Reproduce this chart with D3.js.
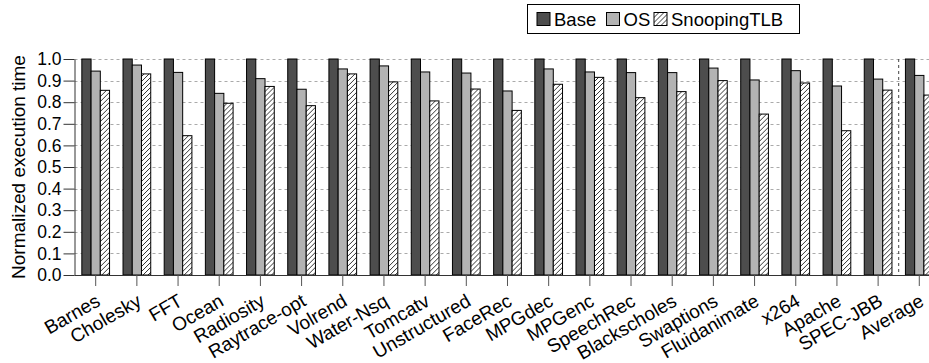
<!DOCTYPE html>
<html>
<head>
<meta charset="utf-8">
<script src="https://cdn.jsdelivr.net/npm/d3@7"></script>
<style>
    body { margin: 0; background: #fff; }
    svg text { font-family: "Liberation Sans", Arial, Helvetica, sans-serif; fill: #000; }
</style>
</head>
<body>
<svg id="chart" width="929" height="363"></svg>
<script>

// Benchmarks on the x axis
const categories = ["Barnes", "Cholesky", "FFT", "Ocean", "Radiosity", "Raytrace-opt", "Volrend",
    "Water-Nsq", "Tomcatv", "Unstructured", "FaceRec", "MPGdec", "MPGenc", "SpeechRec",
    "Blackscholes", "Swaptions", "Fluidanimate", "x264", "Apache", "SPEC-JBB", "Average"];

const seriesNames = ["Base", "OS", "SnoopingTLB"];

// Normalized execution time per series
const baseValues = [1.0, 1.0, 1.0, 1.0, 1.0, 1.0, 1.0, 1.0, 1.0, 1.0, 1.0,
    1.0, 1.0, 1.0, 1.0, 1.0, 1.0, 1.0, 1.0, 1.0, 1.0];
const osValues = [0.944, 0.972, 0.938, 0.841, 0.909, 0.860, 0.954, 0.968, 0.940, 0.935, 0.852,
    0.954, 0.940, 0.937, 0.937, 0.958, 0.903, 0.946, 0.875, 0.907, 0.924];
const snoopValues = [0.855, 0.931, 0.645, 0.795, 0.873, 0.784, 0.931, 0.894, 0.806, 0.861, 0.762,
    0.883, 0.915, 0.821, 0.849, 0.900, 0.745, 0.889, 0.668, 0.856, 0.833];

const yTicks = [0.0, 0.1, 0.2, 0.3, 0.4, 0.5, 0.6, 0.7, 0.8, 0.9, 1.0];

const svg = d3.select("#chart");

// Plot frame
const plotLeft = 74.5,
      plotTop = 59,
      plotBottom = 275,
      step = 41.18,
      pad = 0.327;

const x = d3.scaleBand()
    .domain(categories)
    .range([75.1, 75.1 + step * categories.length])
    .paddingInner(pad)
    .paddingOuter(pad / 2);

const xSeries = d3.scaleBand()
    .domain(seriesNames)
    .range([0, x.bandwidth()]);

const y = d3.scaleLinear()
    .domain([0, 1])
    .range([plotBottom, plotTop]);

// Hatch for SnoopingTLB
const defs = svg.append("defs");
defs.append("pattern")
    .attr("id", "hatch")
    .attr("patternUnits", "userSpaceOnUse")
    .attr("width", 5)
    .attr("height", 5)
    .call(p => {
        p.append("rect").attr("width", 5).attr("height", 5).attr("fill", "#fff");
        p.append("path")
            .attr("d", "M-1,1 L1,-1 M0,5 L5,0 M4,6 L6,4")
            .attr("stroke", "#000")
            .attr("stroke-width", 0.8);
    });

const fills = { "Base": "#4d4d4d", "OS": "#b3b3b3", "SnoopingTLB": "url(#hatch)" };

// Gridlines
svg.append("g")
    .selectAll("line")
    .data(yTicks.filter(d => d > 0))
    .enter()
    .append("line")
    .attr("x1", plotLeft)
    .attr("x2", 929)
    .attr("y1", d => Math.round(y(d)) + 0.5)
    .attr("y2", d => Math.round(y(d)) + 0.5)
    .attr("stroke", "#aaa")
    .attr("stroke-dasharray", "3,3");

// Bars
const rows = categories.map((c, i) => ({
    category: c,
    values: [
        { name: "Base", value: baseValues[i] },
        { name: "OS", value: osValues[i] },
        { name: "SnoopingTLB", value: snoopValues[i] }
    ]
}));

svg.append("g")
    .selectAll("g")
    .data(rows)
    .enter()
    .append("g")
    .attr("transform", d => `translate(${x(d.category)},0)`)
    .selectAll("rect")
    .data(d => d.values)
    .enter()
    .append("rect")
    .attr("x", d => xSeries(d.name))
    .attr("y", d => y(d.value))
    .attr("width", xSeries.bandwidth())
    .attr("height", d => plotBottom - y(d.value))
    .attr("fill", d => fills[d.name])
    .attr("stroke", "#000")
    .attr("stroke-width", 1);

// Separator before Average
const sepX = (x("SPEC-JBB") + x("Average") + x.bandwidth()) / 2;
svg.append("line")
    .attr("x1", sepX)
    .attr("x2", sepX)
    .attr("y1", plotTop)
    .attr("y2", plotBottom)
    .attr("stroke", "#444")
    .attr("stroke-dasharray", "3,3");

// Axes
const yAxis = svg.append("g")
    .attr("transform", `translate(${plotLeft},0)`)
    .call(d3.axisLeft(y).tickValues(yTicks).tickFormat(d3.format(".1f")).tickSize(11).tickSizeOuter(0).tickPadding(2));
yAxis.selectAll("text").style("font-size", "17.5px");
yAxis.selectAll("line, path").attr("stroke", "#333");

const xAxis = svg.append("g")
    .attr("transform", `translate(0,${plotBottom})`)
    .call(d3.axisBottom(x).tickSize(11).tickSizeOuter(0));
xAxis.select(".domain").attr("d", `M${plotLeft},0.5H929`).attr("stroke", "#333");
xAxis.selectAll(".tick line").attr("stroke", "#555");
xAxis.selectAll("text")
    .style("font-size", "19px")
    .attr("text-anchor", "end")
    .attr("x", 0)
    .attr("y", 0)
    .attr("dy", "0.71em")
    .attr("transform", "translate(-1,18) rotate(-30)");

// Y axis title
svg.append("text")
    .attr("transform", `translate(25,${(plotTop + plotBottom) / 2}) rotate(-90)`)
    .attr("text-anchor", "middle")
    .style("font-size", "19px")
    .text("Normalized execution time");

// Legend
const legend = svg.append("g");
legend.append("rect")
    .attr("x", 527.5)
    .attr("y", 4.5)
    .attr("width", 272)
    .attr("height", 29)
    .attr("fill", "#fff")
    .attr("stroke", "#000");

const legendX = [537, 606.5, 654];
legend.selectAll("g")
    .data(seriesNames)
    .enter()
    .append("g")
    .attr("transform", (d, i) => `translate(${legendX[i]},12.5)`)
    .call(g => {
        g.append("rect")
            .attr("width", 13)
            .attr("height", 13)
            .attr("fill", d => fills[d])
            .attr("stroke", "#000");
        g.append("text")
            .attr("x", 17)
            .attr("y", 13)
            .style("font-size", "18.5px")
            .text(d => d);
    });

</script>
</body>
</html>
